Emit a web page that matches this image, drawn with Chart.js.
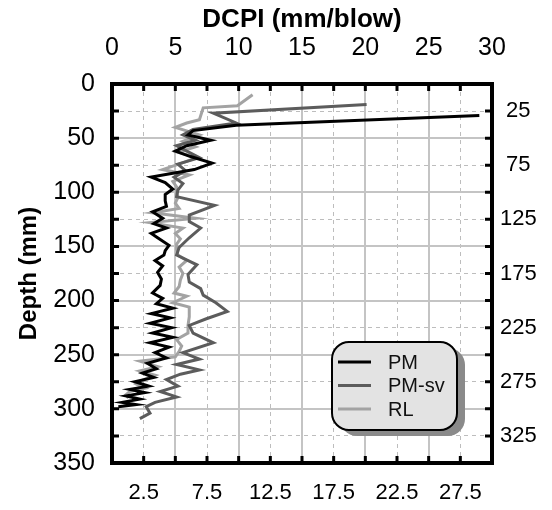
<!DOCTYPE html>
<html>
<head>
<meta charset="utf-8">
<script src="https://cdn.jsdelivr.net/npm/chart.js@4"></script>
<style>
  body { margin: 0; background: #fff; }
  canvas { display: block; }
</style>
</head>
<body>
<canvas id="dcpChart" width="552" height="510"></canvas>
<script>
// Series data: depth (mm) and DCPI (mm/blow)
const seriesNames = ['PM', 'PM-sv', 'RL'];

const pmDepth = [29, 38, 43, 47, 52, 57, 62, 67, 73, 79,
    86, 91, 97, 102, 108, 113, 118, 124, 129, 133,
    138, 142, 149, 154, 158, 163, 168, 174, 180, 186,
    193, 198, 203, 207, 212, 216, 221, 225, 230, 234,
    239, 243, 248, 253, 258, 263, 267, 271, 275, 279,
    282, 285, 288, 291, 294, 296, 298];
const pmValue = [29.0, 9.8, 6.4, 6.0, 7.8, 5.9, 5.0, 6.2, 7.9, 6.5,
    3.1, 4.2, 4.8, 4.2, 4.2, 4.3, 3.2, 4.0, 3.3, 4.3,
    3.1, 3.6, 4.5, 4.2, 4.1, 3.4, 4.0, 3.6, 3.9, 3.8,
    3.2, 4.0, 3.5, 4.8, 3.1, 4.6, 3.0, 4.7, 3.2, 4.8,
    3.0, 4.5, 3.4, 4.3, 2.8, 3.5, 2.4, 3.3, 1.8, 2.9,
    1.4, 2.6, 1.1, 2.2, 0.8, 1.9, 0.5];

const svDepth = [19, 27, 36, 42, 47, 52, 57, 62, 68, 74,
    80, 86, 92, 98, 104, 112, 121, 127, 133, 142,
    151, 158, 167, 176, 183, 189, 195, 202, 210, 217,
    223, 230, 239, 248, 254, 259, 264, 268, 273, 279,
    284, 289, 294, 298, 304, 309];
const svValue = [20.1, 8.0, 9.8, 6.4, 5.6, 6.6, 5.1, 5.9, 6.9, 5.2,
    5.8, 4.9, 5.6, 5.2, 5.1, 8.1, 6.1, 6.1, 7.0, 6.1,
    5.3, 5.1, 6.7, 6.0, 6.1, 7.0, 7.2, 8.2, 9.1, 7.4,
    6.1, 6.4, 8.0, 5.6, 6.9, 5.1, 6.9, 5.4, 4.3, 5.2,
    3.8, 5.1, 3.4, 2.7, 3.0, 2.2];

const rlDepth = [10, 20, 22, 33, 36, 40, 47, 53, 58, 63,
    68, 73, 79, 84, 90, 95, 100, 105, 110, 115,
    119, 124, 128, 133, 138, 143, 148, 153, 158, 163,
    169, 175, 181, 187, 193, 196, 202, 206, 215, 223,
    230, 236, 242, 247, 252, 256, 261, 265, 269, 273,
    277, 281, 284, 287, 290];
const rlValue = [11.1, 9.9, 7.2, 6.9, 5.9, 5.0, 6.9, 5.6, 6.6, 5.2,
    6.7, 5.5, 4.0, 6.1, 4.8, 5.1, 5.1, 5.2, 5.0, 5.3,
    3.2, 6.6, 3.0, 5.6, 5.0, 5.4, 5.1, 5.1, 5.2, 5.9,
    5.3, 5.6, 5.4, 5.3, 4.9, 5.9, 4.8, 6.1, 6.1, 6.0,
    6.0, 5.1, 5.5, 5.3, 5.0, 2.2, 3.6, 2.2, 3.4, 2.5,
    1.9, 2.6, 1.4, 1.1, 1.3];

// Tick labels
const topTicks = [0, 5, 10, 15, 20, 25, 30];
const bottomTicks = [2.5, 7.5, 12.5, 17.5, 22.5, 27.5];
const leftTicks = [0, 50, 100, 150, 200, 250, 300, 350];
const rightTicks = [25, 75, 125, 175, 225, 275, 325];

const FONT = 'Arial, "Liberation Sans", sans-serif';
const lineColors = ['#000000', '#5c5c5c', '#a3a3a3'];

function toPoints(depth, value) {
    return depth.map((d, i) => ({ x: value[i], y: d }));
}

function fixedTicks(list) {
    return function(scale) {
        scale.ticks = list.map(v => ({ value: v }));
    };
}

// Inward tick marks, heavy frame and rounded legend box
const framePlugin = {
    id: 'frame',
    afterDatasetsDraw(chart) {
        const ctx = chart.ctx;
        const a = chart.chartArea;
        const s = chart.scales;
        ctx.save();
        ctx.strokeStyle = '#000';
        ctx.lineWidth = 3;
        ctx.lineCap = 'butt';
        const len = 7;
        [s.x, s.x2].forEach(sc => sc.ticks.forEach(t => {
            const px = sc.getPixelForValue(t.value);
            ctx.beginPath();
            ctx.moveTo(px, a.top); ctx.lineTo(px, a.top + len);
            ctx.moveTo(px, a.bottom); ctx.lineTo(px, a.bottom - len);
            ctx.stroke();
        }));
        [s.y, s.y2].forEach(sc => sc.ticks.forEach(t => {
            const py = sc.getPixelForValue(t.value);
            ctx.beginPath();
            ctx.moveTo(a.left, py); ctx.lineTo(a.left + len, py);
            ctx.moveTo(a.right, py); ctx.lineTo(a.right - len, py);
            ctx.stroke();
        }));
        ctx.lineWidth = 4;
        ctx.strokeRect(a.left, a.top, a.right - a.left, a.bottom - a.top);
        ctx.restore();
    },
    afterDraw(chart) {
        const ctx = chart.ctx;
        const bx = 332, by = 342, bw = 125, bh = 88, r = 17;
        ctx.save();
        ctx.fillStyle = '#8a8a8a';
        ctx.beginPath();
        ctx.roundRect(bx + 8, by + 6, bw, bh, r);
        ctx.fill();
        ctx.fillStyle = '#e3e3e3';
        ctx.strokeStyle = '#000';
        ctx.lineWidth = 2;
        ctx.beginPath();
        ctx.roundRect(bx, by, bw, bh, r);
        ctx.fill();
        ctx.stroke();
        ctx.font = '20px ' + FONT;
        ctx.textBaseline = 'middle';
        ctx.textAlign = 'left';
        chart.data.datasets.forEach((ds, i) => {
            const yy = by + 20 + i * 23.5;
            ctx.strokeStyle = ds.borderColor;
            ctx.lineWidth = 3;
            ctx.beginPath();
            ctx.moveTo(bx + 6, yy);
            ctx.lineTo(bx + 39, yy);
            ctx.stroke();
            ctx.fillStyle = '#111';
            ctx.fillText(ds.label, bx + 56, yy + 1);
        });
        ctx.restore();
    }
};

const ctx = document.getElementById('dcpChart').getContext('2d');
new Chart(ctx, {
    type: 'line',
    data: {
        datasets: [
            { label: seriesNames[0], data: toPoints(pmDepth, pmValue) },
            { label: seriesNames[1], data: toPoints(svDepth, svValue) },
            { label: seriesNames[2], data: toPoints(rlDepth, rlValue) }
        ].map((ds, i) => Object.assign(ds, {
            borderColor: lineColors[i],
            backgroundColor: lineColors[i],
            borderWidth: 3,
            pointRadius: 0,
            tension: 0,
            fill: false,
            xAxisID: 'x',
            yAxisID: 'y'
        }))
    },
    options: {
        responsive: false,
        animation: false,
        layout: { padding: 0 },
        plugins: {
            legend: { display: false },
            tooltip: { enabled: false }
        },
        scales: {
            x: {
                type: 'linear', position: 'top', min: 0, max: 30,
                afterBuildTicks: fixedTicks(topTicks),
                afterFit: sc => { sc.height = 84; },
                ticks: { color: '#000', font: { size: 25, family: FONT }, padding: 21, maxRotation: 0 },
                grid: { color: '#c4c4c4', lineWidth: 2, drawTicks: false },
                border: { display: false },
                title: { display: true, text: 'DCPI (mm/blow)', color: '#000',
                    font: { size: 26, weight: 'bold', family: FONT }, padding: { top: 4, bottom: 0 } }
            },
            x2: {
                type: 'linear', position: 'bottom', min: 0, max: 30,
                afterBuildTicks: fixedTicks(bottomTicks),
                afterFit: sc => { sc.height = 47; },
                ticks: { color: '#000', font: { size: 22, family: FONT }, padding: 17, maxRotation: 0 },
                grid: { color: '#bdbdbd', lineWidth: 1, drawTicks: false },
                border: { display: false, dash: [4, 4] }
            },
            y: {
                type: 'linear', position: 'left', reverse: true, min: 0, max: 350,
                afterBuildTicks: fixedTicks(leftTicks),
                afterFit: sc => { sc.width = 112; },
                ticks: { color: '#000', font: { size: 25, family: FONT }, padding: 17 },
                grid: { color: '#c4c4c4', lineWidth: 2, drawTicks: false },
                border: { display: false },
                title: { display: true, text: 'Depth (mm)', color: '#000',
                    font: { size: 24, weight: 'bold', family: FONT }, padding: { top: 15, bottom: 0 } }
            },
            y2: {
                type: 'linear', position: 'right', reverse: true, min: 0, max: 350,
                afterBuildTicks: fixedTicks(rightTicks),
                afterFit: sc => { sc.width = 60; },
                ticks: { color: '#000', font: { size: 22, family: FONT }, crossAlign: 'center', padding: 8 },
                grid: { color: '#bdbdbd', lineWidth: 1, drawTicks: false },
                border: { display: false, dash: [4, 4] }
            }
        }
    },
    plugins: [framePlugin]
});
</script>
</body>
</html>
